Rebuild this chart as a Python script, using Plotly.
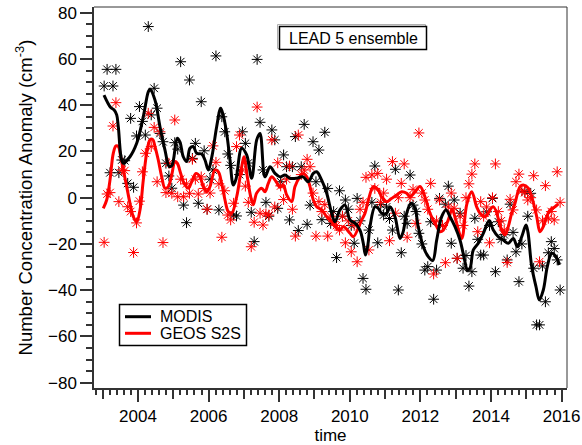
import plotly.graph_objects as go

# Monthly number concentration anomalies (cm^-3), Jan 2003 - Dec 2015
modis = [
    48.3, 55.5, 10.8, 48.3, 55.5, 10.8, 16.3, 16.0, 6.2, 34.3, 4.5, 26.7,
    39.4, 33.0, 27.1, 74.0, 35.8, 47.3, 38.7, 27.8, 24.2, 14.9, 9.4, 4.1,
    23.8, 21.0, 58.8, -3.2, -10.8, 50.9, 17.0, 23.5, -2.4, 41.5, 20.3, -5.0,
    8.0, 12.0, 61.3, -5.3, 35.0, 28.5, 18.9, 14.0, -7.5, -7.9, 10.0, 28.5,
    23.5, 15.0, -6.3, -19.0, 59.8, 32.6, 12.0, -2.0, -8.0, 29.3, 25.0, -4.6,
    6.9, 18.5, 13.4, -9.6, 13.4, 26.4, -14.2, 13.4, 31.7, -11.5, -3.2, 24.2,
    6.9, 20.6, -9.5, 28.3, 4.0, -11.1, -6.0, -25.9, 3.0, -8.0, -1.0, -5.0,
    -12.0, -19.7, -0.3, -10.0, -34.9, -39.6, -14.0, -2.0, 13.7, -19.5, -3.0, -7.5,
    -4.0, -9.0, -14.0, 12.3, -39.9, -23.8, -8.0, -11.1, 9.8, -3.2, -6.0, -15.4,
    -20.0, -31.3, -29.8, -10.4, -43.9, -31.3, -0.3, -12.0, -2.8, 5.0, -19.7, -1.0,
    -26.2, -6.7, -30.5, -25.0, -38.2, -32.0, -8.9, -18.0, -24.8, -24.8, -6.1, -12.0,
    -0.3, -32.0, -10.4, -18.0, -16.0, -26.9, -2.8, -15.0, -23.4, -36.3, -20.0, 2.6,
    -8.0, 1.9, -30.5, -55.0, -55.0, -29.5, -45.0, -23.8, -19.0, -22.0, -26.9, -39.9,
]

geos = [
    -19.3, 1.6, 2.2, 31.0, 41.1, -1.7, 12.0, 11.7, -3.9, -6.0, -23.7, -10.9,
    -1.5, 11.2, 19.2, 36.5, 22.1, 30.4, 6.9, 28.5, -19.4, 2.2, 14.9, 1.9,
    33.6, 0.4, 8.0, 0.4, 6.0, 1.9, 16.6, 8.0, 1.6, 9.0, 4.0, -5.0,
    2.0, 22.4, 15.3, 6.0, -17.1, 3.0, -7.5, -9.6, -2.4, 22.1, 27.1, 12.0,
    5.0, -2.0, -21.2, -10.6, 39.2, -6.7, -11.8, -7.0, -7.5, 25.0, -4.0, 15.1,
    5.1, -0.8, 8.0, 13.7, -5.0, -16.6, 27.1, 10.0, 12.0, 16.6, 13.4, 2.0,
    -16.6, -1.7, -6.0, -3.0, -16.6, -8.0, -10.4, -12.0, -14.0, -8.0, -19.5, -10.0,
    -23.4, -12.0, -27.7, -5.0, -2.0, 8.8, -22.6, 9.8, 4.0, 10.5, -2.0, 2.0,
    8.0, -18.6, 15.6, -6.7, 0.0, 6.2, 14.6, -17.1, 0.0, 3.6, -11.1, 28.0,
    2.0, -1.0, -5.0, 6.2, -33.0, -10.0, -1.0, -12.0, -28.1, -4.0, 2.0, -4.6,
    -26.2, -8.0, -12.0, 0.0, 6.0, 10.2, 14.6, -14.7, -1.7, -8.0, -4.0, -19.5,
    0.0, 14.6, -6.0, -10.0, -14.0, -28.0, -0.7, -5.3, 6.9, 10.2, 3.0, 2.2,
    -1.0, 0.0, 9.5, -5.3, -27.7, -10.0, 5.2, -8.9, -6.0, -9.6, 11.2, -2.0,
]

# Smoothed curves (decimal year, anomaly)
modis_smooth_t = [
    2003.037, 2003.227, 2003.320, 2003.397, 2003.442, 2003.584, 2003.773, 2003.963,
    2004.150, 2004.292, 2004.340, 2004.482, 2004.623, 2004.765, 2004.887, 2004.963,
    2005.113, 2005.190, 2005.283, 2005.380, 2005.473, 2005.567, 2005.663, 2005.805,
    2005.898, 2005.992, 2006.096, 2006.229, 2006.343, 2006.408, 2006.513, 2006.606,
    2006.700, 2006.776, 2006.938, 2007.079, 2007.221, 2007.363, 2007.456, 2007.598,
    2007.739, 2007.881, 2008.023, 2008.164, 2008.306, 2008.496, 2008.674, 2008.824,
    2008.966, 2009.062, 2009.204, 2009.346, 2009.487, 2009.581, 2009.722, 2009.864,
    2010.006, 2010.147, 2010.289, 2010.382, 2010.445, 2010.516, 2010.572, 2010.714,
    2010.807, 2010.904, 2011.045, 2011.139, 2011.280, 2011.422, 2011.507, 2011.612,
    2011.734, 2011.847, 2011.932, 2012.082, 2012.224, 2012.348, 2012.462, 2012.603,
    2012.725, 2012.839, 2012.980, 2013.122, 2013.263, 2013.329, 2013.405, 2013.499,
    2013.640, 2013.782, 2013.952, 2014.065, 2014.207, 2014.348, 2014.490, 2014.632,
    2014.745, 2014.870, 2014.992, 2015.048, 2015.153, 2015.275, 2015.368, 2015.482,
    2015.595, 2015.720, 2015.841, 2015.935,
]
modis_smooth_v = [
    44.4, 39.0, 38.0, 35.8, 30.7, 14.9, 17.7, 23.5,
    35.0, 45.8, 46.9, 42.2, 30.7, 20.6, 13.4, 14.0,
    25.7, 24.0, 17.7, 15.6, 21.4, 22.1, 19.2, 18.9,
    16.3, 12.0, 18.0, 30.7, 38.7, 36.0, 27.8, 16.3,
    5.5, 8.0, 21.4, 18.5, 8.4, 25.0, 27.8, 9.0,
    13.4, 10.5, 9.0, 9.8, 8.4, 8.4, 9.0, 6.9,
    10.5, 11.2, 7.6, 1.9, -6.7, -10.4, -5.3, -3.2,
    -9.6, -11.0, -14.0, -19.7, -24.8, -20.0, -12.5, -3.9,
    -4.6, -6.7, -6.7, -3.9, -8.2, -17.6, -15.0, -6.7,
    -2.4, -4.5, -12.0, -21.2, -25.5, -27.2, -18.3, -8.2,
    -5.3, -8.2, -12.5, -18.3, -27.7, -31.3, -30.5, -22.6,
    -19.7, -15.4, -9.9, -14.0, -16.9, -18.3, -19.7, -17.6,
    -21.2, -16.9, -11.8, -15.0, -29.8, -38.5, -44.2, -39.9,
    -29.8, -24.0, -25.5, -29.1,
]

geos_smooth_t = [
    2003.017, 2003.113, 2003.207, 2003.300, 2003.377, 2003.442, 2003.510, 2003.584,
    2003.680, 2003.773, 2003.867, 2003.963, 2004.057, 2004.150, 2004.246, 2004.340,
    2004.416, 2004.482, 2004.575, 2004.671, 2004.765, 2004.858, 2004.955, 2005.048,
    2005.113, 2005.210, 2005.303, 2005.425, 2005.521, 2005.643, 2005.756, 2005.850,
    2005.946, 2006.040, 2006.181, 2006.275, 2006.371, 2006.465, 2006.558, 2006.654,
    2006.796, 2006.938, 2007.003, 2007.096, 2007.193, 2007.266, 2007.363, 2007.504,
    2007.598, 2007.691, 2007.788, 2007.909, 2008.023, 2008.116, 2008.212, 2008.354,
    2008.448, 2008.589, 2008.683, 2008.779, 2008.873, 2008.966, 2009.062, 2009.204,
    2009.346, 2009.487, 2009.581, 2009.722, 2009.816, 2010.006, 2010.099, 2010.337,
    2010.431, 2010.544, 2010.666, 2010.799, 2010.904, 2011.045, 2011.167, 2011.329,
    2011.470, 2011.612, 2011.705, 2011.847, 2011.989, 2012.159, 2012.272, 2012.462,
    2012.556, 2012.649, 2012.791, 2012.895, 2013.008, 2013.170, 2013.312, 2013.453,
    2013.595, 2013.688, 2013.830, 2014.065, 2014.303, 2014.397, 2014.490, 2014.586,
    2014.680, 2014.822, 2014.915, 2015.057, 2015.153, 2015.295, 2015.388, 2015.482,
    2015.578, 2015.671, 2015.813, 2015.907,
]
geos_smooth_v = [
    -4.6, -1.0, 7.6, 19.2, 22.4, 22.1, 17.7, 12.0,
    4.8, -2.4, -8.2, -10.4, -5.3, 7.6, 19.2, 25.0,
    25.2, 22.1, 16.3, 9.1, 4.1, 4.8, 9.8, 15.6,
    14.9, 10.5, 6.2, 4.1, 6.9, 10.5, 9.1, 4.8,
    2.6, 4.8, 12.0, 11.2, 6.2, -1.0, -6.0, -6.7,
    0.4, 13.4, 17.7, 9.1, 0.4, -3.0, 2.0, 4.1,
    2.6, 6.2, 9.1, 7.0, 4.5, 5.5, 1.2, -1.7,
    4.8, 9.1, 10.5, 9.1, 4.8, -1.0, -3.9, -5.3,
    -8.2, -10.4, -12.5, -14.0, -12.5, -15.4, -16.9, -9.6,
    -6.7, 0.0, 4.8, 3.5, 0.4, -1.7, -0.5, 1.2,
    2.6, 1.9, 0.4, 2.5, 4.8, -1.0, -6.7, -12.5,
    -14.7, -14.0, -9.6, -5.0, -10.0, -17.6, -3.0, 2.6,
    -4.0, -6.7, -8.2, -3.9, -14.0, -16.1, -12.5, -6.7,
    -2.4, 4.8, 5.5, 4.1, 0.4, -8.2, -14.7, -12.5,
    -8.2, -5.3, -3.9, -2.7,
]

series_names = ["MODIS", "GEOS S2S"]
series_colors = ["#000000", "#ff0000"]
box_label = "LEAD 5 ensemble"

# mid-month positions in decimal years
month_time = [2003 + (i + 0.5) / 12 for i in range(len(modis))]

W, H = 582, 445
ML, MR, MT, MB = 94, 15, 7, 57
FONT = "Liberation Sans, Arial, Helvetica, sans-serif"
AXC = "#333333"


def px_x(p):
    return (p - ML) / (W - ML - MR)


def px_y(p):
    return (H - MB - p) / (H - MT - MB)


fig = go.Figure()

for vals, col in [(modis, series_colors[0]), (geos, series_colors[1])]:
    fig.add_trace(go.Scatter(
        x=month_time, y=vals, mode="markers", showlegend=False,
        marker=dict(symbol="asterisk-open", size=9, color=col,
                    line=dict(width=1, color=col)),
    ))

fig.add_trace(go.Scatter(
    x=geos_smooth_t, y=geos_smooth_v, mode="lines", showlegend=False,
    line=dict(color=series_colors[1], width=3, shape="spline", smoothing=1.0),
))
fig.add_trace(go.Scatter(
    x=modis_smooth_t, y=modis_smooth_v, mode="lines", showlegend=False,
    line=dict(color=series_colors[0], width=3, shape="spline", smoothing=1.0),
))

# secondary x axis carrying the yearly ticks
fig.add_trace(go.Scatter(x=[None], y=[None], xaxis="x2", showlegend=False,
                         hoverinfo="skip"))

x_range = [2002.754, 2016.153]
y_range = [-82.29, 82.46]

fig.update_layout(
    width=W, height=H,
    margin=dict(l=ML, r=MR, t=MT, b=MB, pad=0, autoexpand=False),
    paper_bgcolor="white", plot_bgcolor="white",
    font=dict(family=FONT, size=16, color="black"),
    showlegend=False,
    xaxis=dict(
        range=x_range, showgrid=False, zeroline=False, automargin=False,
        showline=True, linewidth=1.5, linecolor=AXC,
        ticks="outside", ticklen=12, tickwidth=1.5, tickcolor=AXC,
        tickmode="linear", tick0=2004, dtick=2,
        minor=dict(ticks="outside", tick0=2004, dtick=0.2, ticklen=5,
                   tickwidth=1.5, tickcolor=AXC, showgrid=False),
        tickfont=dict(size=17, family=FONT, color="black"),
        title=dict(text="time", font=dict(size=17, family=FONT), standoff=9),
    ),
    xaxis2=dict(
        range=x_range, overlaying="x", anchor="y", side="bottom",
        showgrid=False, zeroline=False, showline=False, automargin=False,
        ticks="outside", ticklen=10, tickwidth=1.5, tickcolor=AXC,
        tickmode="linear", tick0=2003, dtick=1, showticklabels=False,
    ),
    yaxis=dict(
        range=y_range, showgrid=False, zeroline=False, automargin=False,
        showline=True, linewidth=1.5, linecolor=AXC,
        ticks="outside", ticklen=12, tickwidth=1.5, tickcolor=AXC,
        tickmode="linear", tick0=0, dtick=20,
        minor=dict(ticks="outside", tick0=0, dtick=5, ticklen=6,
                   tickwidth=1.5, tickcolor=AXC, showgrid=False),
        tickfont=dict(size=17, family=FONT, color="black"),
        title=dict(text="Number Concentration Anomaly (cm<sup>-3</sup>)",
                   font=dict(size=18.5, family=FONT), standoff=11),
    ),
)

shapes = [
    # top and right frame
    dict(type="line", xref="paper", yref="paper", x0=0, x1=1, y0=1, y1=1,
         line=dict(color=AXC, width=1)),
    dict(type="line", xref="paper", yref="paper", x0=1, x1=1, y0=0, y1=1,
         line=dict(color=AXC, width=1)),
    # title box
    dict(type="rect", xref="paper", yref="paper",
         x0=px_x(277.5), x1=px_x(425.5), y0=px_y(24.5), y1=px_y(48.5),
         line=dict(color="#b0b0b0", width=1), fillcolor="white", layer="above"),
    dict(type="rect", xref="paper", yref="paper",
         x0=px_x(279.5), x1=px_x(426.5), y0=px_y(26.5), y1=px_y(49.5),
         line=dict(color="black", width=1.5), fillcolor="white", layer="above"),
    # legend box
    dict(type="rect", xref="paper", yref="paper",
         x0=px_x(119.5), x1=px_x(246.5), y0=px_y(304.5), y1=px_y(345.5),
         line=dict(color="black", width=1.5), fillcolor="white", layer="above"),
]
legend_rows = [316.7, 333.3]
for name, col, yy in zip(series_names, series_colors, legend_rows):
    shapes.append(dict(type="line", xref="paper", yref="paper",
                       x0=px_x(125), x1=px_x(151), y0=px_y(yy), y1=px_y(yy),
                       line=dict(color=col, width=3), layer="above"))
fig.update_layout(shapes=shapes)

annotations = [
    dict(text=box_label, xref="paper", yref="paper",
         x=px_x(353), y=px_y(38), xanchor="center", yanchor="middle",
         showarrow=False, font=dict(size=16, family=FONT, color="black")),
]
for name, yy in zip(series_names, legend_rows):
    annotations.append(dict(text=name, xref="paper", yref="paper",
                            x=px_x(157.5), y=px_y(yy), xanchor="left",
                            yanchor="middle", showarrow=False,
                            font=dict(size=16, family=FONT, color="black")))
fig.update_layout(annotations=annotations)

fig.write_html("out.html")
